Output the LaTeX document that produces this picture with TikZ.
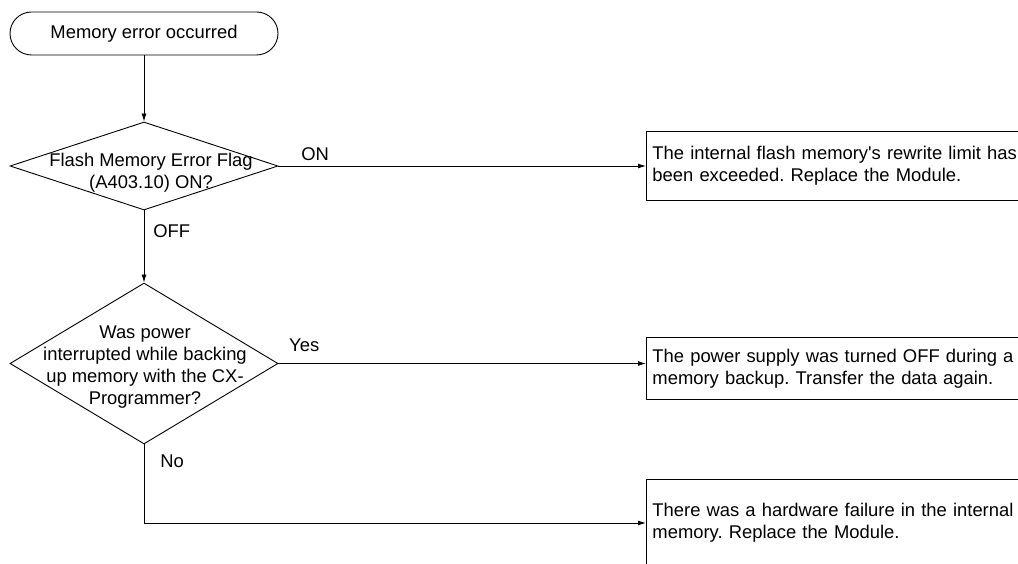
\documentclass[tikz,border=0pt]{standalone}
\usepackage{fontspec}
\setmainfont{Liberation Sans}
\usetikzlibrary{arrows.meta, positioning, shapes.geometric}
\frenchspacing

\begin{document}
\begin{tikzpicture}[
  x=1pt, y=-1pt, line width=0.9pt,
  every node/.style={font=\fontsize{18.4}{21.8}\selectfont},
  terminal/.style={
    rectangle, draw, rounded corners=21.5pt,
    minimum width=268pt, minimum height=43pt,
  },
  decision/.style={diamond, draw, inner sep=0pt, minimum width=268pt},
  qtext/.style={align=center, inner sep=0pt},
  result/.style={
    rectangle, anchor=west, text width=372pt, align=left,
    inner xsep=6pt, inner ysep=0pt,
  },
  arrow/.style={-{Latex[length=8pt, width=5pt]}},
]
\useasboundingbox (0,0) rectangle (1018,564);

\node[terminal] (start) at (144,33.5) {Memory error occurred};

\node[decision, minimum height=88pt] (q1) at (144,166) {};
\node[qtext] (q1txt) at (151,173) {Flash Memory Error Flag\\(A403.10) ON?};

\node[decision, minimum height=161pt] (q2) at (144,363.5) {};
\node[qtext] (q2txt) at (145,367) {Was power\\interrupted while backing\\up memory with the CX-\\Programmer?};

\node[result, minimum height=68pt] (b1) at (646,166)
  {The internal flash memory\textquotesingle s rewrite limit has been exceeded. Replace the Module.};
\node[result, minimum height=61pt] (b2) at (646,368.5)
  {The power supply was turned OFF during a memory backup. Transfer the data again.};
\node[result, minimum height=86pt] (b3) at (646,523)
  {There was a hardware failure in the internal memory. Replace the Module.};

% boxes run off the right edge of the page
\foreach \b in {b1,b2,b3}
  \draw (\b.north east) -- (\b.north west) -- (\b.south west) -- (\b.south east);

\draw[arrow] (start) -- (q1);
\draw[arrow] (q1.east) -- (q1.east -| b1.west) node[pos=0.1, above=2pt]{ON};
\draw[arrow] (q1) -- (q2) node[pos=0.29, right=5.5pt]{OFF};
\draw[arrow] (q2.east) -- (q2.east -| b2.west) node[pos=0.07, above=8pt]{Yes};
\draw[arrow] (q2.south) |- (b3.west) node[pos=0.108, right=12.5pt]{No};
\end{tikzpicture}
\end{document}
